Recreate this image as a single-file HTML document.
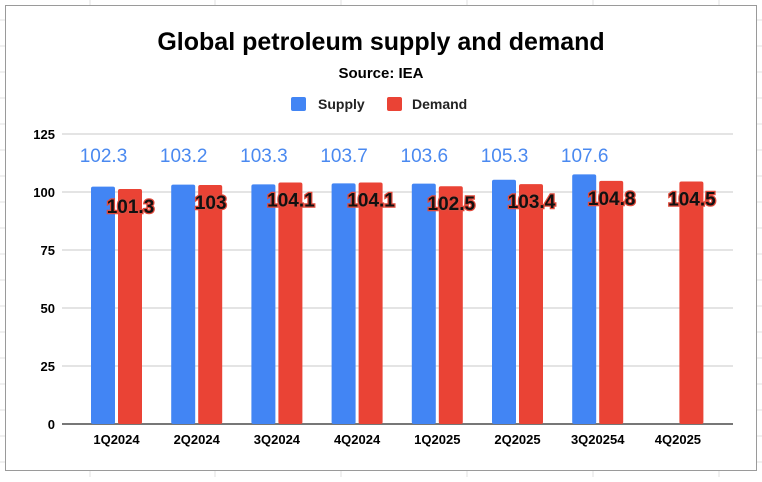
<!DOCTYPE html>
<html><head><meta charset="utf-8"><style>
html,body{margin:0;padding:0;background:#fff;}
body{width:762px;height:477px;overflow:hidden;font-family:"Liberation Sans",Arial,sans-serif;}
</style></head><body>
<svg id="chart" width="762" height="477" xmlns="http://www.w3.org/2000/svg" font-family="Liberation Sans, Arial, sans-serif">
<g id="bggrid" stroke="#e2e2e2" stroke-width="1"></g>
<rect x="5.5" y="5.5" width="751" height="465" fill="#fff" stroke="#9a9a9a" stroke-width="1"/>
<text x="381" y="50" text-anchor="middle" font-size="25" font-weight="bold">Global petroleum supply and demand</text>
<text x="381" y="78" text-anchor="middle" font-size="15" font-weight="bold">Source: IEA</text>
<g>
<rect x="291" y="97" width="15" height="14" rx="2" fill="#4285f4"/>
<text x="318" y="109" font-size="14" font-weight="bold" fill="#222">Supply</text>
<rect x="387" y="97" width="15" height="14" rx="2" fill="#ea4335"/>
<text x="412" y="109" font-size="14" font-weight="bold" fill="#222">Demand</text>
</g>
<g id="grid"></g>
<g id="bars"></g>
<g id="labels"></g>
</svg>
<script>
const categories=["1Q2024","2Q2024","3Q2024","4Q2024","1Q2025","2Q2025","3Q20254","4Q2025"];
const supply=[102.3,103.2,103.3,103.7,103.6,105.3,107.6,null];
const demand=[101.3,103,104.1,104.1,102.5,103.4,104.8,104.5];
const yTicks=[0,25,50,75,100,125];
const NS="http://www.w3.org/2000/svg";
function mk(tag,attrs,parent){const e=document.createElementNS(NS,tag);for(const k in attrs)e.setAttribute(k,attrs[k]);parent.appendChild(e);return e;}
const y0=424,yTop=134,yMax=125;
function yS(v){return y0-(v/yMax)*(y0-yTop);}
const firstC=116.5,step=80.2;
function xC(i){return firstC+i*step;}
const bg=document.getElementById('bggrid');
[90,215,341,467,593,719].forEach(x=>{mk('line',{x1:x,y1:0,x2:x,y2:477},bg);});
for(let y=20;y<477;y+=26){mk('line',{x1:0,y1:y,x2:762,y2:y},bg);}
const g=document.getElementById('grid');
yTicks.forEach(t=>{
 const l=mk('line',{x1:62,x2:733,y1:yS(t),y2:yS(t),stroke:t===0?'#777':'#dcdcdc','stroke-width':t===0?2:1.5},g);
 
 
 const tx=mk('text',{x:55,y:yS(t)+5,'text-anchor':'end','font-size':13,'font-weight':'bold'},g);
 tx.textContent=t;
 
 
});
const b=document.getElementById('bars'),lb=document.getElementById('labels');
categories.forEach((c,i)=>{
 const cx=xC(i);
 if(supply[i]!=null){
  const r=mk('rect',{x:cx-25.5,y:yS(supply[i]),width:24,height:y0-yS(supply[i]),fill:'#4285f4',rx:2},b);
  
  
  const t=mk('text',{x:cx-13,y:162,'text-anchor':'middle','font-size':19,fill:'#4a89f0'},lb);
  t.textContent=supply[i];
  
  
 }
 const r2=mk('rect',{x:cx+1.5,y:yS(demand[i]),width:24,height:y0-yS(demand[i]),fill:'#ea4335',rx:2},b);
 
 
 const t2=mk('text',{x:cx+14,y:yS(demand[i])+24,'text-anchor':'middle','font-size':19,'font-weight':'bold',fill:'#111',stroke:'#e04a3c','stroke-width':2.5,'paint-order':'stroke'},lb);
 t2.textContent=demand[i];
 
 
 const xl=mk('text',{x:cx,y:444,'text-anchor':'middle','font-size':13,'font-weight':'bold'},lb);
 xl.textContent=c;
 
 
});
</script>
</body></html>
